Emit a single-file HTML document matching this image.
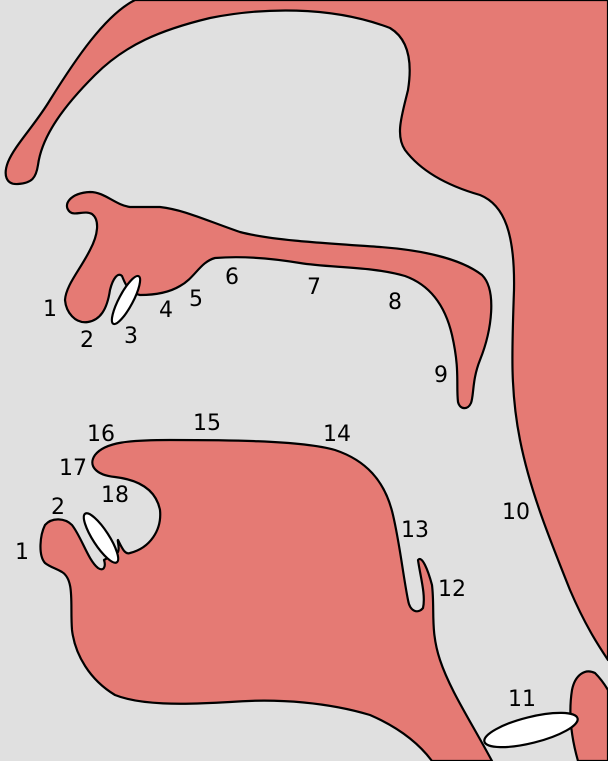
<!DOCTYPE html>
<html><head><meta charset="utf-8"><style>
html,body{margin:0;padding:0;background:#e0e0e0;}
svg{display:block}
text{font-family:"DejaVu Sans","Liberation Sans",sans-serif;font-size:22px;fill:#000}
</style></head><body>
<svg width="608" height="761" viewBox="0 0 608 761">
<rect width="608" height="761" fill="#e0e0e0"/>
<g fill="#e57a74" stroke="#000" stroke-width="2.2" stroke-linejoin="round">
<path d="M135,0 C105,15 75,60 50,100 C35,125 15,145 8,162 C3,175 6,185 18,184 C32,183 36,178 38,165 C42,135 65,105 95,75 C125,45 160,30 210,18 C260,8 330,5 390,28 C410,40 412,65 408,90 C402,115 395,135 405,150 C420,170 445,185 480,195 C505,205 515,235 514,290 C512,350 510,390 520,440 C530,490 548,535 570,590 C585,625 598,645 608,660 L608,0 Z"/>
<path d="M70,212 C62,205 70,193 90,192 C105,192 115,205 130,207 L160,207 C185,210 205,220 240,232 C270,240 320,243 380,247 C420,250 460,258 482,275 C497,290 492,330 480,360 C472,380 474,395 471,403 C468,410 460,410 458,402 C456,385 460,370 452,335 C445,305 430,285 405,276 C370,266 330,268 300,263 C270,258 240,256 215,258 C200,262 195,278 180,286 C165,295 145,295 140,295 C128,293 125,283 122,276 C118,272 113,278 110,290 C107,310 100,320 88,322 C75,324 66,312 65,300 C66,285 80,270 90,250 C98,235 100,220 92,214 C85,210 75,216 70,212 Z"/>
<path d="M45,563 C38,555 40,535 45,525 C52,517 65,518 72,525 C82,538 88,560 98,568 C104,572 106,566 104,560 L118,552 C120,548 117,540 118,540 C122,548 125,555 130,553 C150,548 162,530 160,510 C156,490 140,480 115,477 C95,475 88,465 95,455 C105,442 130,440 170,440 C220,440 300,440 335,450 C365,460 385,480 393,515 C400,545 403,575 408,600 C410,612 418,614 423,608 C426,595 420,575 418,560 C422,555 428,570 432,585 C435,610 430,630 440,660 C450,690 470,720 492,761 L432,761 C420,745 400,728 370,715 C330,703 280,698 230,702 C180,705 140,705 115,695 C90,680 75,655 72,630 C70,605 75,580 62,572 C55,568 50,567 45,563 Z"/>
<path d="M578,761 C572,740 568,715 572,690 C575,675 585,668 595,673 C602,680 608,690 608,690 L608,761 Z"/>
</g>
<g fill="#fff" stroke="#000" stroke-width="2.2">
<ellipse cx="126" cy="300" rx="7" ry="27" transform="rotate(28 126 300)"/>
<ellipse cx="101" cy="538" rx="8" ry="29" transform="rotate(-33 101 538)"/>
<ellipse cx="531" cy="730" rx="48" ry="13" transform="rotate(-14 531 730)"/>
</g>
<g>
<text x="43" y="316">1</text>
<text x="80" y="347">2</text>
<text x="124" y="343">3</text>
<text x="159" y="317">4</text>
<text x="189" y="306">5</text>
<text x="225" y="284">6</text>
<text x="307" y="294">7</text>
<text x="388" y="309">8</text>
<text x="434" y="382">9</text>
<text x="502" y="519">10</text>
<text x="508" y="706">11</text>
<text x="438" y="596">12</text>
<text x="401" y="537">13</text>
<text x="323" y="441">14</text>
<text x="193" y="430">15</text>
<text x="87" y="441">16</text>
<text x="59" y="475">17</text>
<text x="101" y="502">18</text>
<text x="51" y="514">2</text>
<text x="15" y="559">1</text>
</g>
</svg>
</body></html>
